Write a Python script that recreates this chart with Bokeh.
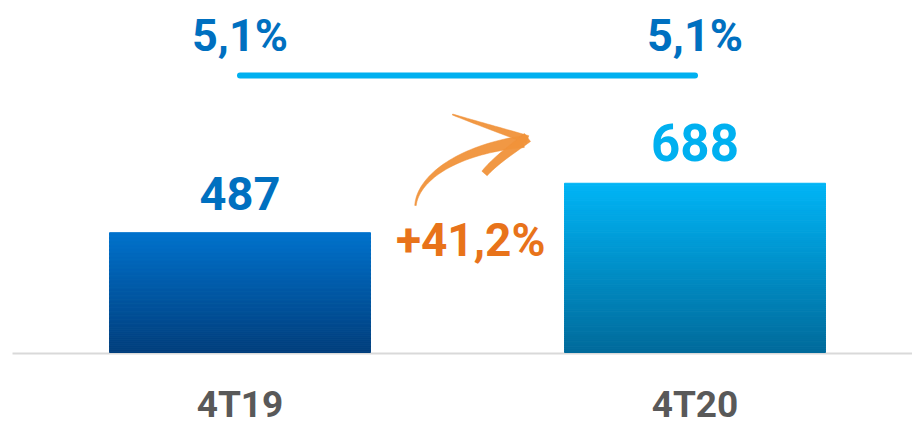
import numpy as np
from bokeh.plotting import figure
from bokeh.models import Range1d, ColumnDataSource
from bokeh.core.properties import value
from bokeh.embed import file_html
from bokeh.resources import INLINE

# ---------------- data ----------------
categories = ["4T19", "4T20"]
revenue = [487, 688]
margin = [5.1, 5.1]
growth = 41.2

# ---------------- styling ----------------
value_colors = ["#0070C0", "#00B0F0"]
grad_top = [(0, 114, 204), (0, 181, 246)]
grad_bot = [(0, 62, 124), (0, 106, 154)]
FONT = value("Roboto")
BL = 0.37             # baseline correction (fraction of font size)

W, H = 912, 425
PX_Y = 0.246          # pixels per revenue unit
PX_X = 455.0          # pixels per category step
X0_PX = 239.5         # pixel x of first category
BASE_PX = 352.0       # pixel y of zero line
BAR_W = 261.0 / PX_X

x_start = -X0_PX / PX_X
x_end = (W - X0_PX) / PX_X
y_start = -(H - BASE_PX) / PX_Y
y_end = BASE_PX / PX_Y

p = figure(width=W, height=H, output_backend="svg", toolbar_location=None,
           x_range=Range1d(x_start, x_end), y_range=Range1d(y_start, y_end),
           x_axis_type=None, y_axis_type=None, min_border=0)
p.grid.visible = False
p.outline_line_color = None
p.background_fill_color = "white"
p.border_fill_color = "white"

xs = list(range(len(categories)))

# baseline
p.segment(x0=[-0.5], y0=[-1 / PX_Y], x1=[x_end], y1=[-1 / PX_Y],
          line_color="#D9D9D9", line_width=2)

# gradient bars built from strips
N = 90
l, r, b, t, c = [], [], [], [], []
for i, v in enumerate(revenue):
    for k in range(N):
        f0, f1 = k / N, (k + 1) / N
        fm = (f0 + f1) / 2
        col = tuple(int(round(grad_bot[i][j] + (grad_top[i][j] - grad_bot[i][j]) * fm)) for j in range(3))
        l.append(xs[i] - BAR_W / 2)
        r.append(xs[i] + BAR_W / 2)
        b.append(v * f0)
        t.append(v * f1)
        c.append("#%02x%02x%02x" % col)
p.quad(left=l, right=r, bottom=b, top=t, fill_color=c, line_color=c, line_width=1)

# value labels
sizes = [47, 51]
val_src = ColumnDataSource(dict(
    x=xs, y=[v + (22 + BL * s) / PX_Y for v, s in zip(revenue, sizes)],
    text=[str(v) for v in revenue],
    color=value_colors, size=["%dpx" % s for s in sizes]))
p.text(x="x", y="y", text="text", source=val_src, text_color="color",
       text_font=FONT, text_font_style="bold", text_font_size="size",
       text_align="center", text_baseline="alphabetic")

# category labels
cat_size = 37
p.text(x=xs, y=[(-66 + BL * cat_size) / PX_Y] * len(xs), text=categories,
       text_color="#595959", text_font=FONT, text_font_style="bold",
       text_font_size="%dpx" % cat_size, text_align="center", text_baseline="alphabetic")

# margin line + labels
line_y = 277 / PX_Y
m_size = 45
p.line(x=[xs[0], xs[-1]], y=[line_y, line_y], line_color="#00B0F0",
       line_width=6, line_cap="round")
p.text(x=xs, y=[line_y + (23 + BL * m_size) / PX_Y] * len(xs),
       text=[("%.1f%%" % m).replace(".", ",") for m in margin],
       text_color="#0070C0", text_font=FONT, text_font_style="bold",
       text_font_size="%dpx" % m_size, text_align="center", text_baseline="alphabetic")

# growth label
g_size = 46
gx = (xs[0] + xs[1]) / 2 + 0.007
p.text(x=[gx], y=[(95 + BL * g_size) / PX_Y],
       text=["+" + ("%.1f%%" % growth).replace(".", ",")],
       text_color="#E8731A", text_font=FONT, text_font_style="bold",
       text_font_size="%dpx" % g_size, text_align="center", text_baseline="alphabetic")

# decorative arrow (pixel geometry in image coords -> data)
def to_data(px, py):
    return (px - X0_PX) / PX_X, (BASE_PX - py) / PX_Y

def tapered(pts, w0, w1, power=1.0):
    pts = np.asarray(pts, float)
    n = len(pts)
    d = np.gradient(pts, axis=0)
    d /= np.linalg.norm(d, axis=1)[:, None]
    nrm = np.stack([-d[:, 1], d[:, 0]], axis=1)
    tt = np.linspace(0, 1, n) ** power
    w = (w0 + (w1 - w0) * tt)[:, None] / 2
    left = pts + nrm * w
    right = pts - nrm * w
    poly = np.vstack([left, right[::-1]])
    dx, dy = zip(*[to_data(a, bb) for a, bb in poly])
    return list(dx), list(dy)

def bez(P0, P1, P2, P3, n=40):
    s = np.linspace(0, 1, n)[:, None]
    P0, P1, P2, P3 = map(np.array, (P0, P1, P2, P3))
    return (1 - s) ** 3 * P0 + 3 * (1 - s) ** 2 * s * P1 + 3 * (1 - s) * s ** 2 * P2 + s ** 3 * P3

shaft = bez((415, 205), (417, 180), (452, 150), (523, 141))
upper = bez((452, 114), (475, 122), (500, 130), (527, 139), n=20)
lower = bez((527, 137), (510, 150), (495, 160), (484, 173), n=20)
arrow_xs, arrow_ys = [], []
for pts, w0, w1, pw in [(shaft, 1.5, 12, 1.3), (upper, 1.0, 8, 1.0), (lower, 10, 7, 1.0)]:
    ax_, ay_ = tapered(pts, w0, w1, pw)
    arrow_xs.append(ax_)
    arrow_ys.append(ay_)
p.patches(xs=arrow_xs, ys=arrow_ys, fill_color="#F0923A", line_color="#F0923A",
          line_width=0.5, fill_alpha=0.95)

open("out.html", "w").write(file_html(p, INLINE))
